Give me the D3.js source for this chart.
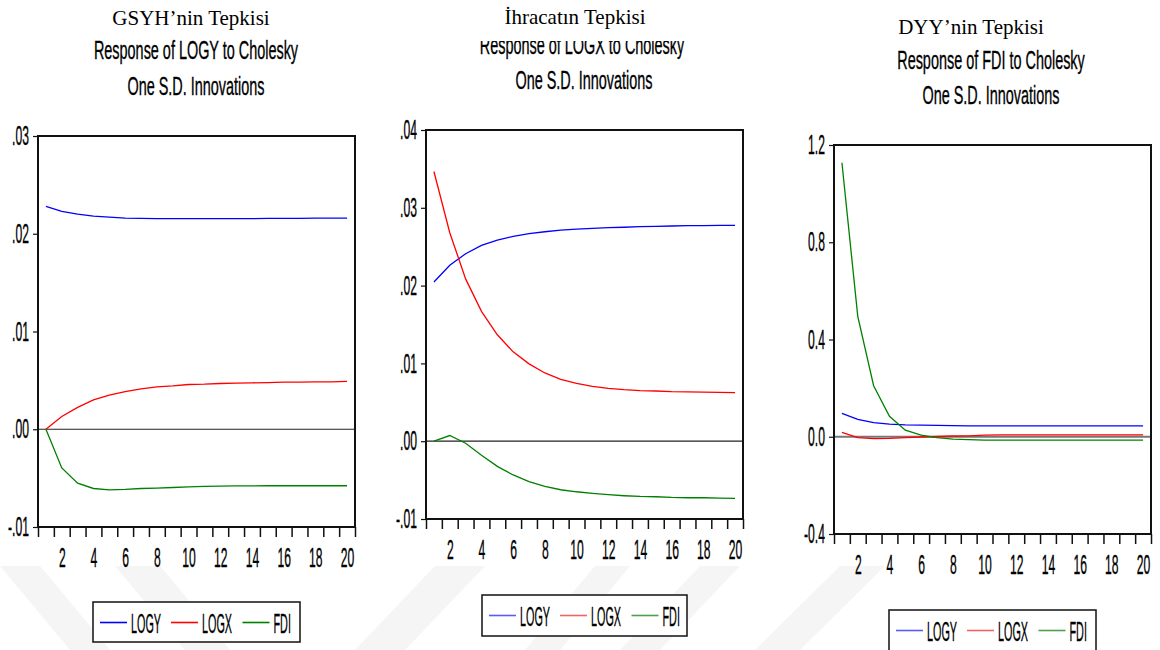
<!DOCTYPE html>
<html>
<head>
<meta charset="utf-8">
<script src="https://cdn.jsdelivr.net/npm/d3@7"></script>
<style>
  body { margin: 0; background: #fff; }
  svg { display: block; }
  .cond { font-family: "Liberation Sans", Arial, sans-serif; fill: #000; stroke: #000; stroke-width: 0.35px; }
  .serif { font-family: "Liberation Serif", "Times New Roman", serif; fill: #000; }
</style>
</head>
<body>
<div id="chart"></div>
<script>
const periods = d3.range(1, 21);
const seriesNames = ["LOGY", "LOGX", "FDI"];
const seriesColors = ["#0000ff", "#ff0000", "#008000"];
const softColors = ["#5c5cf5", "#f26464", "#4f9f4f"];

// Response of LOGY (GSYH)
const logyToLogy = [0.0228, 0.0223, 0.0220, 0.0218, 0.0217, 0.0216, 0.02158, 0.02155, 0.02155, 0.02155,
                    0.02155, 0.02155, 0.02155, 0.02155, 0.02157, 0.02158, 0.02158, 0.02159, 0.0216, 0.0216];
const logyToLogx = [0, 0.0013, 0.00224, 0.0030, 0.0035, 0.00386, 0.00413, 0.00434, 0.00444, 0.00458,
                    0.00461, 0.00468, 0.00472, 0.00475, 0.00478, 0.00482, 0.00483, 0.00484, 0.00485, 0.00489];
const logyToFdi  = [0, -0.00396, -0.00551, -0.00606, -0.0062, -0.00616, -0.00606, -0.00602, -0.00596, -0.00589,
                    -0.00585, -0.00582, -0.0058, -0.00579, -0.00578, -0.00578, -0.00578, -0.00578, -0.00578, -0.00578];

// Response of LOGX (ihracat)
const logxToLogy = [0.02047, 0.02262, 0.02409, 0.02516, 0.02585, 0.02632, 0.02667, 0.02692, 0.02714, 0.02727,
                    0.02735, 0.02744, 0.0275, 0.02757, 0.02761, 0.02766, 0.0277, 0.0277, 0.02774, 0.02774];
const logxToLogx = [0.03467, 0.0268, 0.02086, 0.01669, 0.01368, 0.01148, 0.00994, 0.00877, 0.00796, 0.00744,
                    0.00705, 0.0068, 0.00662, 0.00649, 0.00645, 0.00637, 0.00634, 0.00632, 0.00628, 0.00624];
const logxToFdi  = [0, 0.00073, -0.00026, -0.0018, -0.00323, -0.00434, -0.0052, -0.00581, -0.00624, -0.0065,
                    -0.00671, -0.00688, -0.00701, -0.0071, -0.00714, -0.00723, -0.00727, -0.00727, -0.00731, -0.00735];

// Response of FDI (DYY)
const fdiToLogy = [0.096, 0.0715, 0.0577, 0.052, 0.049, 0.048, 0.047, 0.046, 0.045, 0.045,
                   0.045, 0.045, 0.045, 0.045, 0.045, 0.045, 0.045, 0.045, 0.045, 0.045];
const fdiToLogx = [0.018, -0.004, -0.008, -0.007, -0.004, -0.001, 0.001, 0.003, 0.004, 0.007,
                   0.008, 0.008, 0.008, 0.008, 0.008, 0.008, 0.008, 0.008, 0.008, 0.008];
const fdiToFdi  = [1.127, 0.495, 0.21, 0.084, 0.027, 0.007, -0.004, -0.0096, -0.012, -0.0137,
                   -0.0137, -0.0137, -0.0137, -0.0137, -0.0137, -0.0137, -0.0137, -0.0137, -0.0137, -0.0137];

const yTicksLogy = [-0.01, 0, 0.01, 0.02, 0.03];
const yLabelsLogy = ["-.01", ".00", ".01", ".02", ".03"];
const yTicksLogx = [-0.01, 0, 0.01, 0.02, 0.03, 0.04];
const yLabelsLogx = ["-.01", ".00", ".01", ".02", ".03", ".04"];
const yTicksFdi = [-0.4, 0, 0.4, 0.8, 1.2];
const yLabelsFdi = ["-0.4", "0.0", "0.4", "0.8", "1.2"];
const xLabels = [2, 4, 6, 8, 10, 12, 14, 16, 18, 20];

const turkishTitles = ["GSYH\u2019nin Tepkisi", "\u0130hracat\u0131n Tepkisi", "DYY\u2019nin Tepkisi"];
const responseTitles = ["Response of LOGY to Cholesky", "Response of LOGX to Cholesky", "Response of FDI to Cholesky"];
const subTitle = "One S.D. Innovations";

const width = 1160, height = 650;

const svg = d3.select("#chart").append("svg")
    .attr("width", width)
    .attr("height", height);

// faint watermark bands behind everything
const bands = [
    [[0, 566], [40, 566], [110, 650], [70, 650]],
    [[115, 566], [160, 566], [230, 650], [185, 650]],
    [[435, 566], [485, 566], [405, 650], [355, 650]],
    [[595, 566], [630, 566], [560, 650], [525, 650]],
    [[700, 566], [740, 566], [660, 650], [620, 650]],
    [[840, 566], [885, 566], [800, 650], [755, 650]]
];
svg.append("g").selectAll("polygon")
    .data(bands)
    .enter().append("polygon")
    .attr("points", d => d.map(p => p.join(",")).join(" "))
    .attr("fill", "#f5f5f5");

const panels = [
    { frame: [38, 136, 355, 527], yDomain: [-0.01, 0.03], yTicks: yTicksLogy, yLabels: yLabelsLogy,
      series: [logyToLogy, logyToLogx, logyToFdi], zeroColor: "#222", zeroWidth: 1.2,
      tr: [191, 25], en: [196, 59], sub: [196, 95], clipEn: false,
      legend: [93, 602, 207, 40], legendColors: seriesColors },
    { frame: [426, 130, 743, 519], yDomain: [-0.01, 0.04], yTicks: yTicksLogx, yLabels: yLabelsLogx,
      series: [logxToLogy, logxToLogx, logxToFdi], zeroColor: "#222", zeroWidth: 1.2,
      tr: [575, 24], en: [582, 54], sub: [584, 89], clipEn: true,
      legend: [482, 595, 205, 41], legendColors: softColors },
    { frame: [834, 145, 1151, 534], yDomain: [-0.4, 1.2], yTicks: yTicksFdi, yLabels: yLabelsFdi,
      series: [fdiToLogy, fdiToLogx, fdiToFdi], zeroColor: "#777", zeroWidth: 2,
      tr: [971, 34], en: [991, 69], sub: [991, 104], clipEn: false,
      legend: [889, 610, 207, 44], legendColors: softColors }
];

function condText(sel, x, y, str, size, sx, anchor) {
    return sel.append("text")
        .attr("class", "cond")
        .attr("transform", "translate(" + x + "," + y + ") scale(" + sx + ",1)")
        .attr("text-anchor", anchor || "middle")
        .style("font-size", size + "px")
        .text(str);
}

const labelSize = 27, labelScale = 0.45;

panels.forEach(function (p, k) {
    const [x0, y0, x1, y1] = p.frame;
    const g = svg.append("g");

    const x = d3.scaleLinear().domain([0.5, 20.5]).range([x0, x1]);
    const y = d3.scaleLinear().domain(p.yDomain).range([y1, y0]);

    // titles
    condText(g, p.en[0], p.en[1], responseTitles[k], 26, 0.555);
    if (p.clipEn) {
        // the top of this line is hidden in the original
        g.append("rect")
            .attr("x", p.en[0] - 120).attr("y", p.en[1] - 32)
            .attr("width", 240).attr("height", 19)
            .attr("fill", "#fff");
    }
    g.append("text")
        .attr("class", "serif")
        .attr("x", p.tr[0]).attr("y", p.tr[1])
        .attr("text-anchor", "middle")
        .style("font-size", "21px")
        .text(turkishTitles[k]);
    condText(g, p.sub[0], p.sub[1], subTitle, 26, 0.555);

    // zero line
    g.append("line")
        .attr("x1", x0).attr("x2", x1)
        .attr("y1", y(0)).attr("y2", y(0))
        .attr("stroke", p.zeroColor)
        .attr("stroke-width", p.zeroWidth);

    // response lines
    const line = d3.line()
        .x((d, i) => x(periods[i]))
        .y(d => y(d));

    g.selectAll("path.resp")
        .data(p.series)
        .enter().append("path")
        .attr("class", "resp")
        .attr("d", line)
        .attr("fill", "none")
        .attr("stroke", (d, i) => seriesColors[i])
        .attr("stroke-width", 1.3);

    // frame
    g.append("rect")
        .attr("x", x0).attr("y", y0)
        .attr("width", x1 - x0).attr("height", y1 - y0)
        .attr("fill", "none")
        .attr("stroke", "#111")
        .attr("stroke-width", 2);

    // y axis
    const yAxis = g.append("g")
        .attr("transform", "translate(" + x0 + ",0)")
        .call(d3.axisLeft(y).tickValues(p.yTicks)
            .tickFormat((d, i) => p.yLabels[i])
            .tickSize(5).tickPadding(4));
    yAxis.select(".domain").remove();
    yAxis.selectAll(".tick line").attr("stroke", "#111").attr("stroke-width", 1.2);
    yAxis.selectAll(".tick text")
        .attr("class", "cond")
        .style("font-size", labelSize + "px")
        .attr("x", -9 / labelScale)
        .attr("transform", "scale(" + labelScale + ",1)");

    // x axis: ticks between periods, labels on even periods
    const xTicks = g.append("g")
        .attr("transform", "translate(0," + y1 + ")")
        .call(d3.axisBottom(x).tickValues(d3.range(0.5, 21, 1)).tickSize(10).tickFormat(""));
    xTicks.select(".domain").remove();
    xTicks.selectAll(".tick line").attr("stroke", "#111").attr("stroke-width", 1.5);

    const xLab = g.append("g")
        .attr("transform", "translate(0," + y1 + ")")
        .call(d3.axisBottom(x).tickValues(xLabels).tickSize(0));
    xLab.select(".domain").remove();
    xLab.selectAll(".tick text")
        .attr("class", "cond")
        .style("font-size", labelSize + "px")
        .attr("y", 40).attr("dy", 0)
        .attr("transform", "scale(" + labelScale + ",1)");

    // legend
    const [lx, ly, lw, lh] = p.legend;
    const lg = g.append("g").attr("transform", "translate(" + lx + "," + ly + ")");
    lg.append("rect")
        .attr("width", lw).attr("height", lh)
        .attr("fill", "#fff")
        .attr("stroke", "#111")
        .attr("stroke-width", 1.5);
    const offsets = [7, 78, 149.5];
    seriesNames.forEach(function (name, i) {
        lg.append("line")
            .attr("x1", offsets[i]).attr("x2", offsets[i] + 27)
            .attr("y1", 20.5).attr("y2", 20.5)
            .attr("stroke", p.legendColors[i])
            .attr("stroke-width", 1.6);
        condText(lg, offsets[i] + 31, 30.5, name, 27, 0.4, "start");
    });
});
</script>
</body>
</html>
